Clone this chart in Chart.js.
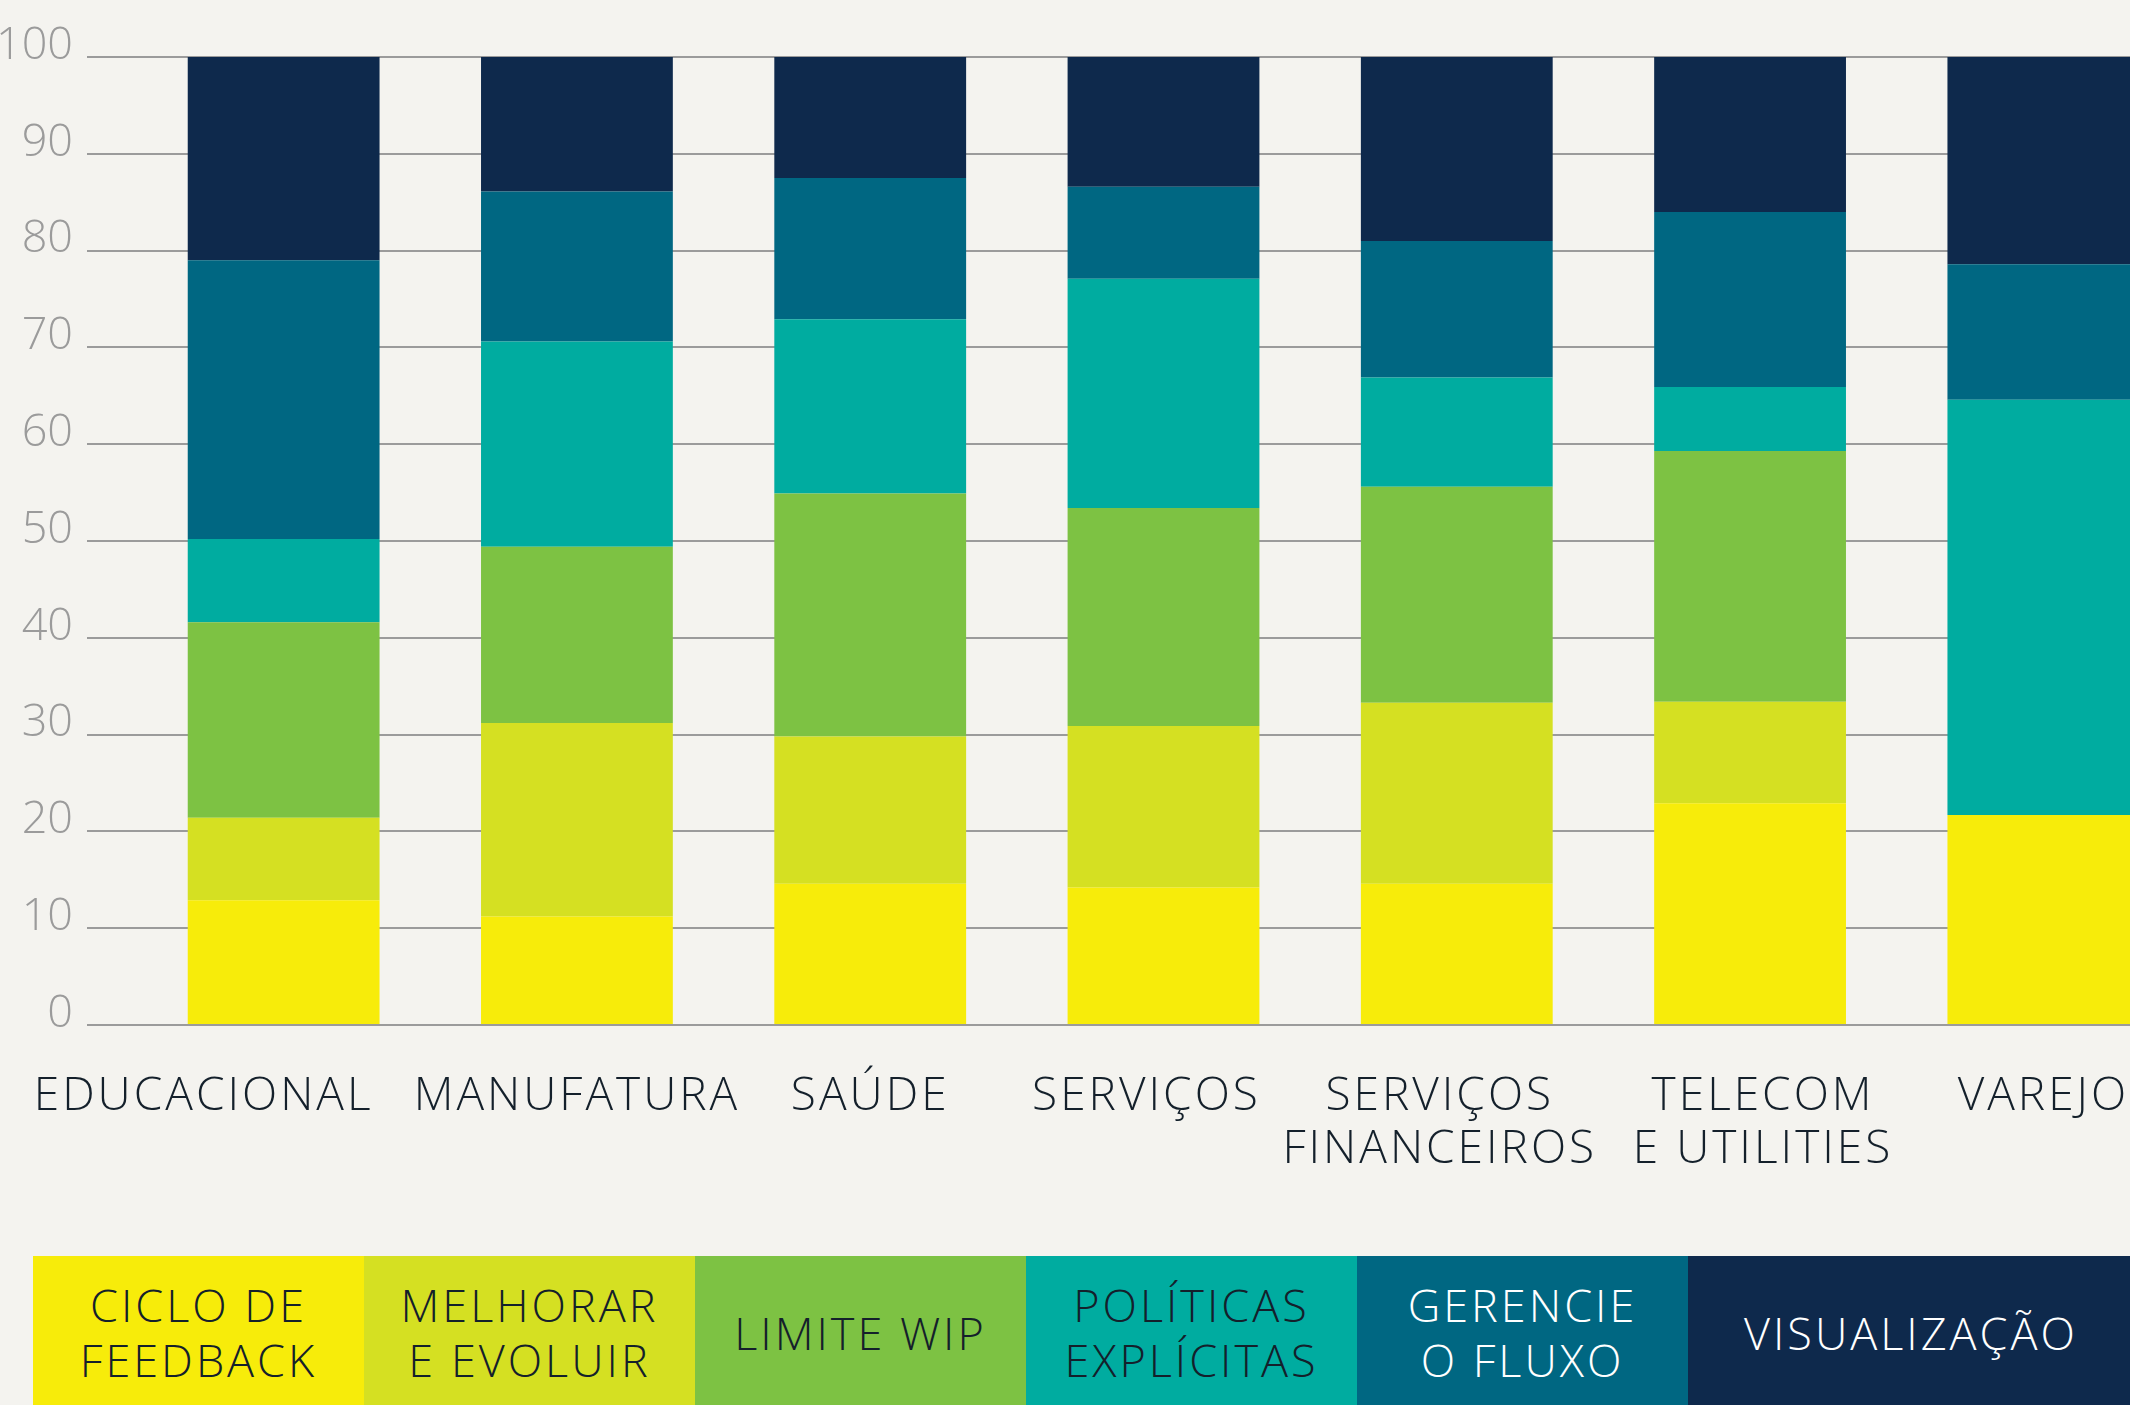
<!DOCTYPE html>
<html>
<head>
<meta charset="utf-8">
<script src="https://cdn.jsdelivr.net/npm/chart.js@4.4.0/dist/chart.umd.min.js"></script>
<style>
  html, body { margin: 0; padding: 0; background: #f4f3ef; overflow: hidden; width: 2130px; height: 1405px; }
  #wrap { position: absolute; left: 0; top: 0; width: 2200px; height: 1405px; }
  #legend { position: absolute; left: 33px; top: 1256px; height: 149px; display: flex; }
  .leg { height: 149px; display: flex; align-items: center; justify-content: center; text-align: center;
         font-family: "Open Sans", sans-serif; font-weight: 300; font-size: 45px; line-height: 55px;
         letter-spacing: 3px; white-space: pre-line; padding-top: 3px; box-sizing: border-box; }
</style>
</head>
<body>
<div id="wrap"><canvas id="chart"></canvas></div>
<div id="legend"></div>
<script>
// categories (x axis)
var categories = ['EDUCACIONAL', 'MANUFATURA', 'SAÚDE', 'SERVIÇOS', ['SERVIÇOS', 'FINANCEIROS'], ['TELECOM', 'E UTILITIES'], 'VAREJO'];

// series, bottom to top
var seriesNames = ['CICLO DE\nFEEDBACK', 'MELHORAR\nE EVOLUIR', 'LIMITE WIP', 'POLÍTICAS\nEXPLÍCITAS', 'GERENCIE\nO FLUXO', 'VISUALIZAÇÃO'];
var seriesColors = ['#f7ec0a', '#d5e022', '#7dc243', '#00aca0', '#006782', '#0e294c'];
var legendTextColors = ['#14202b', '#14202b', '#14202b', '#14202b', '#ffffff', '#ffffff'];

var cicloFeedback = [12.9, 11.2, 14.6, 14.2, 14.6, 22.9, 21.7];
var melhorarEvoluir = [8.5, 20.0, 15.2, 16.7, 18.7, 10.5, 0];
var limiteWip = [20.2, 18.2, 25.1, 22.5, 22.3, 25.9, 0];
var politicasExplicitas = [8.6, 21.2, 18.0, 23.7, 11.3, 6.6, 42.9];
var gerencieFluxo = [28.8, 15.5, 14.6, 9.5, 14.1, 18.1, 14.0];
var visualizacao = [21.0, 13.9, 12.5, 13.4, 19.0, 16.0, 21.4];

var seriesValues = [cicloFeedback, melhorarEvoluir, limiteWip, politicasExplicitas, gerencieFluxo, visualizacao];

// y axis ticks
var yMin = 0, yMax = 100, yStep = 10;

// small nudges of the category labels, like in the original layout
var labelShift = [-80, 0, 0, -17, -17, 13, 0];

var FONT = '"Open Sans", sans-serif';

var datasets = seriesValues.map(function (vals, i) {
  return {
    label: seriesNames[i].replace('\n', ' '),
    data: vals,
    backgroundColor: seriesColors[i],
    borderWidth: 0,
    categoryPercentage: 1,
    barPercentage: 0.654
  };
});

// draws the category names under the bars
var xLabels = {
  id: 'xLabels',
  afterDraw: function (chart) {
    var ctx = chart.ctx;
    var xs = chart.scales.x;
    ctx.save();
    ctx.fillStyle = '#14202b';
    ctx.font = '300 46px ' + FONT;
    ctx.letterSpacing = '3px';
    ctx.textAlign = 'center';
    ctx.textBaseline = 'middle';
    categories.forEach(function (c, i) {
      var lines = Array.isArray(c) ? c : [c];
      var x = xs.getPixelForValue(i) + labelShift[i];
      lines.forEach(function (l, k) {
        ctx.fillText(l, x, chart.chartArea.bottom + 72 + k * 53);
      });
    });
    ctx.restore();
  }
};

var ctx = document.getElementById('chart').getContext('2d');
var myChart = new Chart(ctx, {
  type: 'bar',
  data: {
    labels: categories,
    datasets: datasets
  },
  options: {
    responsive: true,
    maintainAspectRatio: false,
    animation: false,
    layout: { padding: { top: 57, right: 10, left: 0, bottom: 0 } },
    plugins: {
      legend: { display: false },
      tooltip: { enabled: false }
    },
    scales: {
      x: {
        stacked: true,
        grid: { display: false },
        border: { display: false },
        ticks: { display: false },
        afterFit: function (s) { s.height = 380; }
      },
      y: {
        stacked: true,
        min: yMin,
        max: yMax,
        ticks: {
          stepSize: yStep,
          color: '#9b9b9b',
          font: { family: FONT, size: 45, weight: 300 },
          padding: 14,
          labelOffset: -11
        },
        grid: { color: '#9b9b9b', lineWidth: 2, drawTicks: true, tickLength: 50 },
        border: { display: false },
        afterFit: function (s) { s.width = 137; }
      }
    }
  },
  plugins: [xLabels]
});

// legend boxes along the bottom
var legend = document.getElementById('legend');
seriesNames.forEach(function (name, i) {
  var d = document.createElement('div');
  d.className = 'leg';
  d.style.width = (i == seriesNames.length - 1 ? 446 : 331) + 'px';
  d.style.background = seriesColors[i];
  d.style.color = legendTextColors[i];
  d.textContent = name;
  legend.appendChild(d);
});
</script>
</body>
</html>
